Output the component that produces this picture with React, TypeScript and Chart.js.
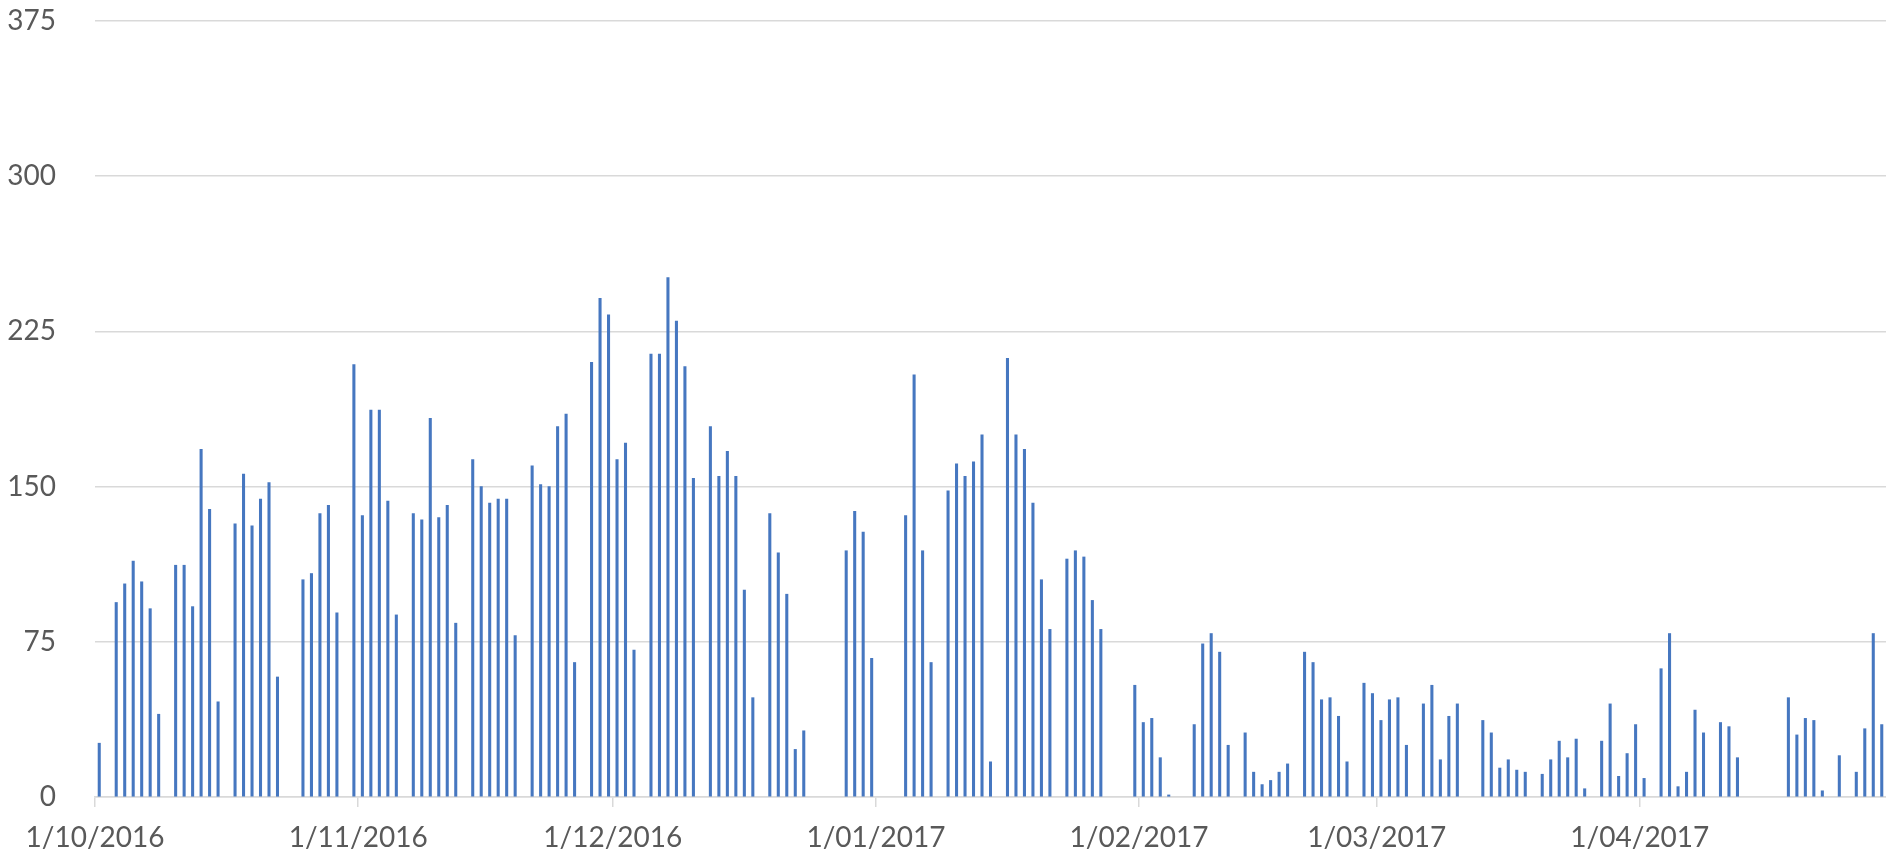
import React, { useEffect, useRef } from "react";
import { Chart, registerables } from "chart.js";

Chart.register(...registerables);

// Month start tick labels
const monthLabels = [
  "1/10/2016",
  "1/11/2016",
  "1/12/2016",
  "1/01/2017",
  "1/02/2017",
  "1/03/2017",
  "1/04/2017",
];

// Daily values, one entry per calendar day (null = no bar)
const oct2016 = [
  26, null, 94, 103, 114, 104, 91, 40, null, 112, 112, 92, 168, 139, 46, null,
  132, 156, 131, 144, 152, 58, null, null, 105, 108, 137, 141, 89, null, 209,
];
const nov2016 = [
  136, 187, 187, 143, 88, null, 137, 134, 183, 135, 141, 84, null, 163, 150,
  142, 144, 144, 78, null, 160, 151, 150, 179, 185, 65, null, 210, 241, 233,
];
const dec2016 = [
  163, 171, 71, null, 214, 214, 251, 230, 208, 154, null, 179, 155, 167, 155,
  100, 48, null, 137, 118, 98, 23, 32, null, null, null, null, 119, 138, 128, 67,
];
const jan2017 = [
  null, null, null, 136, 204, 119, 65, null, 148, 161, 155, 162, 175, 17, null,
  212, 175, 168, 142, 105, 81, null, 115, 119, 116, 95, 81, null, null, null, 54,
];
const feb2017 = [
  36, 38, 19, 1, null, null, 35, 74, 79, 70, 25, null, 31, 12, 6, 8, 12, 16,
  null, 70, 65, 47, 48, 39, 17, null, 55, 50,
];
const mar2017 = [
  37, 47, 48, 25, null, 45, 54, 18, 39, 45, null, null, 37, 31, 14, 18, 13, 12,
  null, 11, 18, 27, 19, 28, 4, null, 27, 45, 10, 21, 35,
];
const apr2017 = [
  9, null, 62, 79, 5, 12, 42, 31, null, 36, 34, 19, null, null, null, null,
  null, 48, 30, 38, 37, 3, null, 20, null, 12, 33, 79, 35, null,
];

const months = [oct2016, nov2016, dec2016, jan2017, feb2017, mar2017, apr2017];

const yMin = 0;
const yMax = 375;
const yStep = 75;

export default function App() {
  const canvasRef = useRef<HTMLCanvasElement | null>(null);

  useEffect(() => {
    if (!canvasRef.current) return;

    const points: { x: number; y: number }[] = [];
    const monthStarts: number[] = [];
    let start = 0;
    let lastDay = 0;
    months.forEach((m) => {
      monthStarts.push(start);
      m.forEach((v, i) => {
        if (v !== null) {
          points.push({ x: start + i + 0.5, y: v as number });
          lastDay = start + i + 1;
        }
      });
      start += m.length;
    });

    const labelFor = (value: number) => {
      const idx = monthStarts.indexOf(value);
      return idx >= 0 ? monthLabels[idx] : "";
    };

    const chart = new Chart(canvasRef.current, {
      type: "bar",
      data: {
        datasets: [
          {
            data: points as any,
            backgroundColor: "#4677c0",
            borderWidth: 0,
            barThickness: 2.4,
          },
        ],
      },
      options: {
        animation: false,
        responsive: true,
        maintainAspectRatio: false,
        layout: { padding: { top: 21, left: 0, right: 0, bottom: 0 } },
        plugins: {
          legend: { display: false },
          tooltip: { enabled: false },
          title: { display: false },
        },
        scales: {
          x: {
            type: "linear",
            offset: false,
            min: 0,
            max: lastDay,
            afterBuildTicks: (scale: any) => {
              scale.ticks = monthStarts.map((v) => ({ value: v }));
            },
            afterFit: (scale: any) => {
              scale.height = 57;
              scale.paddingLeft = 0;
              scale.paddingRight = 0;
            },
            ticks: {
              autoSkip: false,
              maxRotation: 0,
              minRotation: 0,
              padding: 14,
              color: "#595959",
              font: { family: "Lato", size: 28 },
              callback: (value: any) => labelFor(Number(value)),
            },
            grid: {
              offset: false,
              drawOnChartArea: false,
              drawTicks: true,
              tickLength: 10,
              color: "#d9d9d9",
              lineWidth: 1.5,
            },
            border: { display: true, color: "#d9d9d9", width: 1.5 },
          },
          y: {
            min: yMin,
            max: yMax,
            afterFit: (scale: any) => {
              scale.width = 95;
              scale.paddingTop = 0;
              scale.paddingBottom = 0;
            },
            ticks: {
              stepSize: yStep,
              padding: 39,
              color: "#595959",
              font: { family: "Lato", size: 28 },
            },
            grid: {
              drawTicks: false,
              color: "#d9d9d9",
              lineWidth: 1.5,
            },
            border: { display: false },
          },
        },
      },
    });

    return () => chart.destroy();
  }, []);

  return (
    <div
      style={{
        position: "fixed",
        left: 0,
        top: 0,
        width: "1886px",
        height: "854px",
        background: "#ffffff",
      }}
    >
      <canvas ref={canvasRef} />
    </div>
  );
}
